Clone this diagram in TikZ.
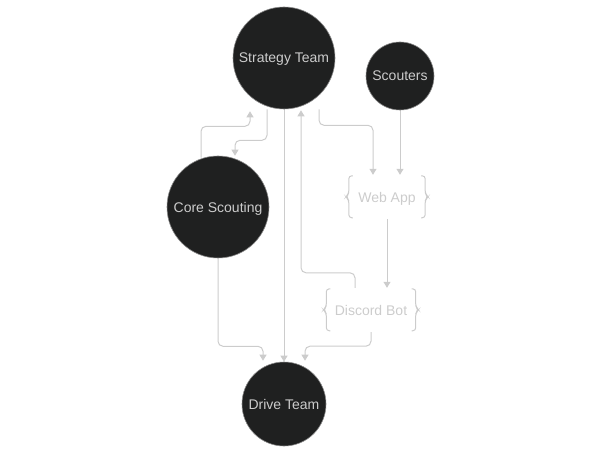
\documentclass[tikz,border=0pt]{standalone}
\usepackage{fontspec}
\setmainfont{Liberation Sans}
\usetikzlibrary{calc,arrows.meta,backgrounds}
\definecolor{nodefill}{HTML}{1F2020}
\definecolor{lightline}{HTML}{CCCCCC}
\definecolor{lighttext}{HTML}{CCCCCC}
\tikzset{
  circ/.style={circle,fill=nodefill,draw=lightline!60!nodefill,line width=0.6pt,text=lighttext,
    font=\fontsize{14}{16}\selectfont,inner sep=0pt,text depth=0pt},
  bracebox/.style={rectangle,inner sep=0pt,text=lighttext,font=\fontsize{14}{16}\selectfont,text depth=0pt},
  conn/.style={draw=lightline,line width=1pt,rounded corners=5pt,-{Triangle[width=7pt,length=6pt]}},
  bracepath/.style={draw=lightline,line width=1pt,rounded corners=3pt},
}
\newcommand\drawbraces[1]{%
  \draw[bracepath] ($(#1.north west)+(7,1)$) -- ($(#1.north west)+(3,1)$) -- ($(#1.north west)+(3,19)$)
    -- ($(#1.north west)+(0,22)$) -- ($(#1.north west)+(3,25)$) -- ($(#1.north west)+(3,43)$) -- ($(#1.north west)+(7,43)$);
  \draw[bracepath] ($(#1.north east)+(-7,1)$) -- ($(#1.north east)+(-3,1)$) -- ($(#1.north east)+(-3,19)$)
    -- ($(#1.north east)+(0,22)$) -- ($(#1.north east)+(-3,25)$) -- ($(#1.north east)+(-3,43)$) -- ($(#1.north east)+(-7,43)$);
}
\begin{document}
\begin{tikzpicture}[x=1pt,y=-1pt]
\useasboundingbox (0,0) rectangle (602,454);
\node[circ,minimum size=102pt] (st) at (284,58) {Strategy Team};
\node[circ,minimum size=68pt] (sc) at (400,76) {Scouters};
\node[circ,minimum size=102pt] (cs) at (218,207) {Core Scouting};
\node[circ,minimum size=84pt] (dt) at (284,404) {Drive Team};
\node[bracebox,minimum width=82pt,minimum height=44pt] (wa) at (387,197) {Web App};
\node[bracebox,minimum width=95pt,minimum height=44pt] (db) at (371,310) {Discord Bot};
\drawbraces{wa}
\drawbraces{db}
\begin{scope}[on background layer]
% Core Scouting -> Strategy Team
\draw[conn] ($(cs.north)+(-17,2)$) |- ($(st.south)+(-34,17)$) -- ($(st.south)+(-34,2)$);
% Strategy Team -> Core Scouting
\draw[conn] ($(st.south)+(-17,0)$) -- ($(st.south)+(-17,31)$) -| ($(cs.north)+(17,0)$);
% Strategy Team -> Web App
\draw[conn] ($(st.south)+(35,0)$) -- ($(st.south)+(35,16)$) -| ($(wa.north)+(-14,0)$);
% Scouters -> Web App
\draw[conn] (sc.south) -- ($(wa.north)+(13,0)$);
% Strategy Team -> Drive Team
\draw[conn] (st.south) -- (dt.north);
% Discord Bot -> Strategy Team
\draw[conn] ($(db.north)+(-16,0)$) -- ($(db.north)+(-16,-15)$) -| ($(st.south)+(17,1)$);
% Web App -> Discord Bot
\draw[conn] (wa.south) -- ($(db.north)+(16,0)$);
% Core Scouting -> Drive Team
\draw[conn] (cs.south) -- ($(cs.south)+(0,88)$) -| ($(dt.north)+(-21,-1)$);
% Discord Bot -> Drive Team
\draw[conn] (db.south) -- ($(db.south)+(0,14)$) -| ($(dt.north)+(21,-1)$);
\end{scope}
\end{tikzpicture}
\end{document}
